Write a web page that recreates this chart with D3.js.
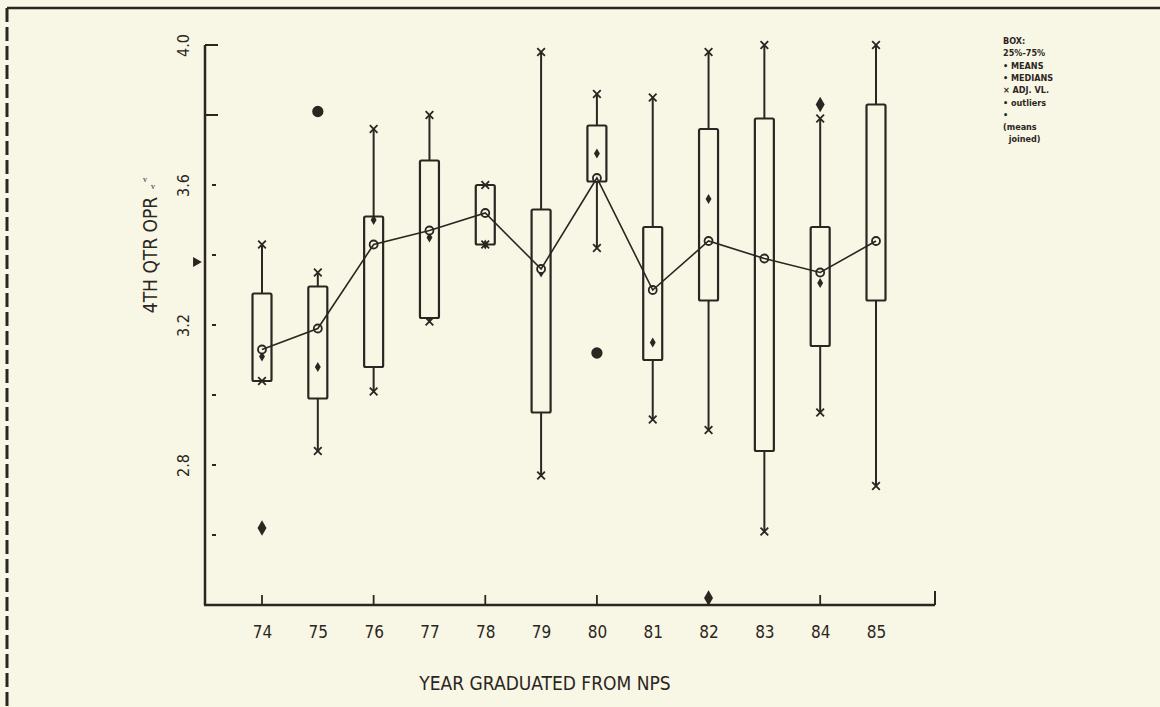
<!DOCTYPE html>
<html>
<head>
<meta charset="utf-8">
<script src="https://d3js.org/d3.v7.min.js"></script>
<style>
  body { margin: 0; background: #f8f6e5; }
  svg { display: block; }
  .plot text { fill: #2b2622; }
</style>
</head>
<body>
<svg id="chart" width="1160" height="707"></svg>
<script>
// years on the x axis
var years = ["74","75","76","77","78","79","80","81","82","83","84","85"];
// box statistics (4th qtr OPR)
var whiskerHigh = [3.43, 3.35, 3.76, 3.80, 3.60, 3.98, 3.86, 3.85, 3.98, 4.00, 3.79, 4.00];
var q3          = [3.29, 3.31, 3.51, 3.67, 3.60, 3.53, 3.77, 3.48, 3.76, 3.79, 3.48, 3.83];
var q1          = [3.04, 2.99, 3.08, 3.22, 3.43, 2.95, 3.61, 3.10, 3.27, 2.84, 3.14, 3.27];
var whiskerLow  = [3.04, 2.84, 3.01, 3.21, 3.43, 2.77, 3.42, 2.93, 2.90, 2.61, 2.95, 2.74];
var means       = [3.13, 3.19, 3.43, 3.47, 3.52, 3.36, 3.62, 3.30, 3.44, 3.39, 3.35, 3.44];
var medians     = [3.11, 3.08, 3.50, 3.45, 3.43, 3.35, 3.69, 3.15, 3.56, 3.39, 3.32, 3.44];
// outliers: year, value, marker shape
var outlierYears  = ["74", "75", "80", "82", "84"];
var outlierValues = [2.62, 3.81, 3.12, 2.42, 3.83];
var outlierShapes = ["diamond", "circle", "circle", "diamond", "diamond"];
// y axis
var yTicks = [4.0, 3.8, 3.6, 3.4, 3.2, 3.0, 2.8, 2.6];
var yLabels = [4.0, 3.6, 3.2, 2.8];
var xTickYears = ["74","76","78","80","82","84"];
var legendLines = ["BOX:", "25%-75%", "\u2022 MEANS", "\u2022 MEDIANS", "\u00d7 ADJ. VL.", "\u2022 outliers", "\u2022", "(means", "  joined)"];

var ink = "#2b2622";
var fontNarrow = "'Liberation Sans Narrow', 'DejaVu Sans Condensed', 'Liberation Sans', sans-serif";

var svg = d3.select("#chart");

// page border (scanned sheet edge)
svg.append("line").attr("x1", 7).attr("y1", 8).attr("x2", 1160).attr("y2", 8)
   .attr("stroke", ink).attr("stroke-width", 2.5);
svg.append("line").attr("x1", 7).attr("y1", 8).attr("x2", 7).attr("y2", 707)
   .attr("stroke", ink).attr("stroke-width", 3).attr("stroke-dasharray", "14,5");

var g = svg.append("g").attr("class", "plot");

var x = d3.scalePoint().domain(years).range([262, 876]);
var y = d3.scaleLinear().domain([2.4, 4.0]).range([605, 45]);

// y axis labels (rotated, as on the plotter output)
var yAxis = g.append("g").attr("transform", "translate(205,0)")
  .call(d3.axisLeft(y).tickValues(yLabels).tickSize(0).tickPadding(0).tickFormat(d3.format(".1f")));
yAxis.select(".domain").remove();
yAxis.selectAll("text")
  .attr("transform", "translate(-22,0) rotate(-90)")
  .attr("x", 0).attr("y", 0).attr("dy", "0.35em").attr("text-anchor", "middle")
  .style("font-family", fontNarrow).style("font-size", "16px").attr("fill", ink);

g.append("line").attr("x1", 205).attr("x2", 205).attr("y1", y(4.0)).attr("y2", y(2.4))
  .attr("stroke", ink).attr("stroke-width", 2.5);
g.selectAll(".ytick").data(yTicks).enter().append("line")
  .attr("class", "ytick")
  .attr("x1", function(d) { return d >= 3.8 ? 205 : 212; })
  .attr("x2", function(d) { return d >= 3.8 ? 218 : 216; })
  .attr("y1", function(d) { return y(d); }).attr("y2", function(d) { return y(d); })
  .attr("stroke", ink).attr("stroke-width", 2);

// x axis
var xAxis = g.append("g").attr("transform", "translate(0,605)")
  .call(d3.axisBottom(x).tickSize(0).tickPadding(21));
xAxis.select(".domain").remove();
xAxis.selectAll("text").style("font-family", fontNarrow).style("font-size", "17px").attr("fill", ink);
g.append("line").attr("x1", 204).attr("x2", 935).attr("y1", 605).attr("y2", 605)
  .attr("stroke", ink).attr("stroke-width", 2.5);
g.append("line").attr("x1", 935).attr("x2", 935).attr("y1", 605).attr("y2", 591)
  .attr("stroke", ink).attr("stroke-width", 2);
g.selectAll(".xtick").data(xTickYears).enter().append("line")
  .attr("x1", function(d) { return x(d); }).attr("x2", function(d) { return x(d); })
  .attr("y1", 605).attr("y2", 595).attr("stroke", ink).attr("stroke-width", 1.8);

// axis titles
g.append("text").attr("x", 545).attr("y", 690).attr("text-anchor", "middle")
  .style("font-family", fontNarrow).style("font-size", "19px").text("YEAR GRADUATED FROM NPS");
g.append("text").attr("transform", "translate(150,255) rotate(-90)").attr("dy", "0.35em")
  .attr("text-anchor", "middle").style("font-family", fontNarrow).style("font-size", "19px")
  .text("4TH QTR OPR");

// small marks near the y axis
g.append("path").attr("d", d3.symbol(d3.symbolTriangle, 45)())
  .attr("transform", "translate(196," + y(3.38) + ") rotate(90)").attr("fill", ink);
g.append("text").attr("x", 143).attr("y", 182).style("font-size", "8px").attr("fill", "#77736a").text("v");
g.append("text").attr("x", 151).attr("y", 189).style("font-size", "8px").attr("fill", "#77736a").text("v");

// boxes
var boxW = 19;
var rows = years.map(function(yr, i) {
  return { year: yr, hi: whiskerHigh[i], q3: q3[i], q1: q1[i], lo: whiskerLow[i], mean: means[i], median: medians[i] };
});
var box = g.selectAll(".box").data(rows).enter().append("g").attr("class", "box");
box.append("line")
  .attr("x1", function(d) { return x(d.year); }).attr("x2", function(d) { return x(d.year); })
  .attr("y1", function(d) { return y(d.hi); }).attr("y2", function(d) { return y(d.q3); })
  .attr("stroke", ink).attr("stroke-width", 2);
box.append("line")
  .attr("x1", function(d) { return x(d.year); }).attr("x2", function(d) { return x(d.year); })
  .attr("y1", function(d) { return y(d.q1); }).attr("y2", function(d) { return y(d.lo); })
  .attr("stroke", ink).attr("stroke-width", 2);
box.append("rect")
  .attr("x", function(d) { return x(d.year) - boxW / 2; })
  .attr("y", function(d) { return y(d.q3); })
  .attr("width", boxW)
  .attr("height", function(d) { return y(d.q1) - y(d.q3); })
  .attr("rx", 1.5)
  .attr("fill", "none").attr("stroke", ink).attr("stroke-width", 2.2);

// whisker ends (adjacent values)
var xMark = d3.symbol(d3.symbolX, 40);
box.append("path").attr("d", xMark)
  .attr("transform", function(d) { return "translate(" + x(d.year) + "," + y(d.hi) + ")"; })
  .attr("fill", "none").attr("stroke", ink).attr("stroke-width", 1.8);
box.append("path").attr("d", xMark)
  .attr("transform", function(d) { return "translate(" + x(d.year) + "," + y(d.lo) + ")"; })
  .attr("fill", "none").attr("stroke", ink).attr("stroke-width", 1.8);

// means joined
g.append("path").datum(rows)
  .attr("d", d3.line().x(function(d) { return x(d.year); }).y(function(d) { return y(d.mean); }))
  .attr("fill", "none").attr("stroke", ink).attr("stroke-width", 1.6);

// medians
box.append("path").attr("d", d3.symbol(d3.symbolDiamond, 30))
  .attr("transform", function(d) { return "translate(" + x(d.year) + "," + y(d.median) + ")"; })
  .attr("fill", ink);
// means
box.append("circle")
  .attr("cx", function(d) { return x(d.year); }).attr("cy", function(d) { return y(d.mean); })
  .attr("r", 4).attr("fill", "#f8f6e5").attr("stroke", ink).attr("stroke-width", 1.8);

// outliers
var outliers = outlierYears.map(function(yr, i) { return { year: yr, value: outlierValues[i], shape: outlierShapes[i] }; });
g.selectAll(".outlier").data(outliers).enter().append("path")
  .attr("class", "outlier")
  .attr("d", function(d) { return d.shape === "circle" ? d3.symbol(d3.symbolCircle, 100)() : d3.symbol(d3.symbolDiamond, 70)(); })
  .attr("transform", function(d) { return "translate(" + x(d.year) + "," + y(d.value) + ")"; })
  .attr("fill", ink);

// legend
g.selectAll(".legend").data(legendLines).enter().append("text")
  .attr("x", 1003).attr("y", function(d, i) { return 44 + i * 12.3; })
  .attr("xml:space", "preserve")
  .style("font-family", fontNarrow).style("font-size", "9px").style("font-weight", "bold")
  .text(function(d) { return d; });
</script>
</body>
</html>
